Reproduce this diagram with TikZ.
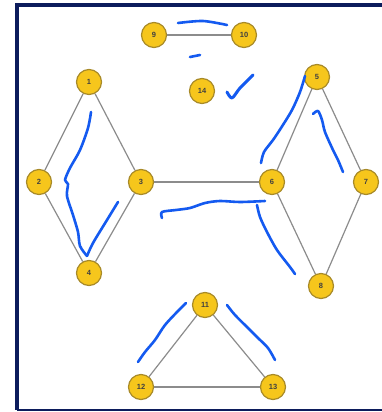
\documentclass[tikz,border=0pt]{standalone}
\usepackage{fontspec}
\setmainfont{Liberation Sans}
\usepackage{tikz}
\definecolor{gold}{RGB}{246,198,28}
\definecolor{goldrim}{RGB}{168,138,40}
\definecolor{navy}{RGB}{12,28,92}
\definecolor{pen}{RGB}{20,90,240}
\definecolor{edgegray}{RGB}{140,140,140}
\tikzset{
  vertex/.style={circle,fill=gold,draw=goldrim,line width=1.2pt,minimum size=25pt,
    inner sep=0pt,font=\fontsize{7.5}{8}\selectfont\bfseries,text=black!75},
  link/.style={draw=edgegray,line width=1.2pt},
  scribble/.style={draw=pen,line width=2.6pt,line cap=round,line join=round},
}
\begin{document}
\begin{tikzpicture}[x=1pt,y=-1pt]
  \useasboundingbox (0,0) rectangle (382,412);
  \fill[white] (0,0) rectangle (382,412);
  % frame
  \draw[navy,line width=4pt] (384,5) -- (17,5) -- (17,410);
  \draw[navy,line width=2.5pt] (17,410) -- (384,410);
  % vertices
  \node[vertex] (v1) at (89,82) {1};
  \node[vertex] (v2) at (39,182) {2};
  \node[vertex] (v3) at (141,182) {3};
  \node[vertex] (v4) at (89,273) {4};
  \node[vertex] (v5) at (317,77) {5};
  \node[vertex] (v6) at (272,182) {6};
  \node[vertex] (v7) at (366,182) {7};
  \node[vertex] (v8) at (321,286) {8};
  \node[vertex] (v9) at (154,35) {9};
  \node[vertex] (v10) at (244,35) {10};
  \node[vertex] (v11) at (205,305) {11};
  \node[vertex] (v12) at (141,387) {12};
  \node[vertex] (v13) at (273,387) {13};
  \node[vertex] (v14) at (202,91) {14};
  % edges
  \foreach \a/\b in {v1/v2,v1/v3,v2/v4,v3/v4,v3/v6,v5/v6,v5/v7,v6/v8,v7/v8,v9/v10,v11/v12,v11/v13,v12/v13}
    \draw[link] (\a) -- (\b);
  % pen strokes
  \draw[scribble] plot[smooth] coordinates {(178,23) (203,21) (227,25)};
  \draw[scribble] (190,57) -- (200,55);
  \draw[scribble,line width=3pt] plot[smooth] coordinates {(227,92) (232,98) (240,88) (253,75)};
  \draw[scribble] plot[smooth] coordinates {(91,112) (88,128) (80,150) (70,168) (65,180) (68,184) (67,196) (73,215) (78,232) (80,246) (87,256)};
  \draw[scribble] plot[smooth] coordinates {(87,256) (93,243) (107,220) (118,202)};
  \draw[scribble] plot[smooth] coordinates {(261,163) (264,152) (273,140) (281,128) (292,110) (300,92) (305,76)};
  \draw[scribble] plot[smooth] coordinates {(313,114) (318,111) (322,120) (325,132) (333,150) (338,160) (343,172)};
  \draw[scribble] plot[smooth] coordinates {(162,218) (162,212) (176,210) (190,208) (205,203) (220,201) (240,202) (265,201)};
  \draw[scribble] plot[smooth] coordinates {(257,205) (260,217) (267,232) (277,250) (290,267) (295,274)};
  \draw[scribble] plot[smooth] coordinates {(186,303) (178,311) (165,325) (155,340) (145,352) (138,362)};
  \draw[scribble] plot[smooth] coordinates {(227,305) (235,315) (250,330) (258,338) (268,348) (275,360)};
\end{tikzpicture}
\end{document}
